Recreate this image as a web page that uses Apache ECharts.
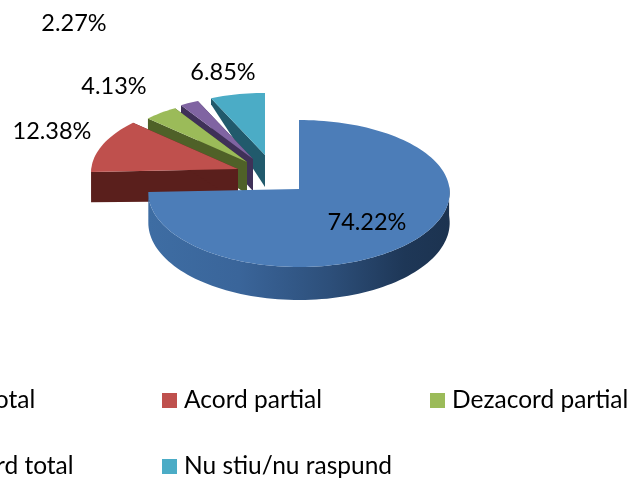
<!DOCTYPE html>
<html><head><meta charset="utf-8">
<style>html,body{margin:0;padding:0;background:#fff}#c{width:630px;height:478px}</style>
<script src="https://cdn.jsdelivr.net/npm/echarts@6/dist/echarts.min.js"></script>
</head><body><div id="c"></div>
<script>
const categories = ['Acord total','Acord partial','Dezacord partial','Dezacord total','Nu stiu/nu raspund'];
const percentValues = [74.22,12.38,4.13,2.27,6.85];
const percentLabels = ['74.22%','12.38%','4.13%','2.27%','6.85%'];

const topColors = ['#4c7db8','#bf504d','#9bbb59','#8064a2','#4bacc6'];
const wallColors = ['#2b4a72','#5a1f1c','#4f6128','#3f3158','#215a6c'];
const apexX = [299,238,247,253,265];
const apexY = [189,169,162,159,155];
const scales = [1,0.975,0.92,0.92,0.9];
const labelX = [367,52,114,74,223];
const labelY = [222,131,86,23,72];
const legendLeft = [-106,162,430,-106,162];
const legendTop = [388,388,388,454,454];

const RX = 150.5;
const total = percentValues.reduce((a,b)=>a+b,0);
const startAngles = []; let acc = 0;
percentValues.forEach(v=>{startAngles.push(acc/total*360); acc+=v;});

function rimPoint(i,deg){
  const t=deg*Math.PI/180, v=-Math.cos(t), s=scales[i], k=1+0.05*v;
  return {x:apexX[i]+RX*s*k*Math.sin(t), y:apexY[i]+s*(73.5*v+4.5*v*v), v};
}
function depth(v){ return v<0 ? Math.max(6,30+27*v) : 30+3*v; }
function arc(i,a,b){
  const pts=[], n=Math.max(4,Math.ceil(Math.abs(b-a)/2));
  for(let j=0;j<=n;j++) pts.push(rimPoint(i,a+(b-a)*j/n));
  return pts;
}
function renderSlice(params,api){
  const i=api.value(0), val=api.value(1);
  const a=startAngles[i], b=a+val/total*360;
  const ax=apexX[i], ay=apexY[i];
  const pts=arc(i,a,b);
  const kids=[];
  const lo=pts.filter(p=>p.v>-0.05);
  if(lo.length>1){
    const rim=lo.map(p=>[p.x,p.y]).concat(lo.slice().reverse().map(p=>[p.x,p.y+depth(p.v)]));
    kids.push({type:'polygon',shape:{points:rim},style:{fill: i===0 ? {type:'linear',x:0,y:0,x2:1,y2:0,colorStops:[
      {offset:0,color:'#3e6da3'},{offset:0.3,color:'#3a659a'},{offset:0.6,color:'#2d4f7a'},{offset:0.85,color:'#1e3757'},{offset:1,color:'#1c3350'}]} : wallColors[i]}});
  }
  if(i!==0){
    [pts[0],pts[pts.length-1]].forEach(p=>{
      kids.push({type:'polygon',shape:{points:[[ax,ay],[p.x,p.y],[p.x,p.y+depth(p.v)],[ax,ay+32]]},style:{fill:wallColors[i]}});
    });
  }
  kids.push({type:'polygon',shape:{points:[[ax,ay]].concat(pts.map(p=>[p.x,p.y]))},style:{fill:topColors[i]}});
  kids.push({type:'text',z2:50,style:{text:percentLabels[i],x:labelX[i],y:labelY[i],align:'center',verticalAlign:'middle',font:'23.5px Lato',fill:'#000'}});
  return {type:'group',children:kids};
}
const drawOrder=[4,3,2,1,0];
const series=drawOrder.map(i=>({
  type:'custom',name:categories[i],coordinateSystem:'none',renderItem:renderSlice,
  data:[[i,percentValues[i]]],itemStyle:{color:topColors[i]},silent:true,animation:false,clip:false
}));
const legend=categories.map((c,i)=>({
  data:[c],left:legendLeft[i],top:legendTop[i],itemWidth:15,itemHeight:15,itemGap:6,padding:0,
  icon:'rect',selectedMode:false,
  textStyle:{fontFamily:'Lato',fontSize:24.5,color:'#000',padding:[0,0,4,2]}
}));
const chart=echarts.init(document.getElementById('c'),null,{renderer:'canvas'});
chart.setOption({animation:false,backgroundColor:'#fff',legend,series});
</script></body></html>
